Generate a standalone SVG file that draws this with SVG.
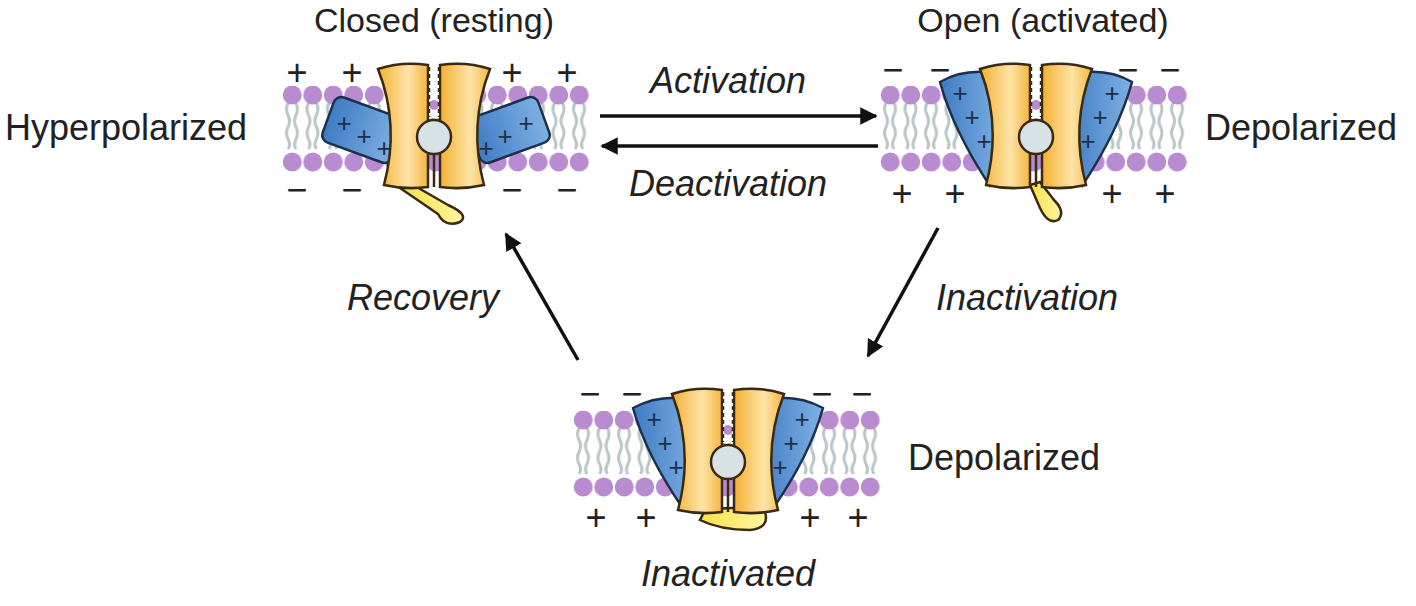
<svg xmlns="http://www.w3.org/2000/svg" xmlns:xlink="http://www.w3.org/1999/xlink" width="1416" height="606" viewBox="0 0 1416 606">
<style>
text{font-family:"Liberation Sans",Arial,sans-serif;fill:#222;font-size:36px}
.tt{font-size:34px}
.it{font-style:italic;font-size:36px}
.ch{font-size:32px;text-anchor:middle;fill:#333}
.orng{fill:url(#og);stroke:#3a2a10;stroke-width:2.5}
.blu{fill:url(#bg);stroke:#1e2f4a;stroke-width:2.5}
.yel{fill:url(#yg);stroke:#3a2a10;stroke-width:2.5}
.pore{fill:#d8e2e6;stroke:#3a2a10;stroke-width:2.5}
.pl{font-size:26px;text-anchor:middle;fill:#1e2f4a}
.con{stroke:#111;stroke-width:3.5;fill:none}
</style>
<defs>
<linearGradient id="og" x1="0" x2="1"><stop offset="0" stop-color="#f4b030"/><stop offset="0.6" stop-color="#fde4a8"/><stop offset="1" stop-color="#f6b640"/></linearGradient>
<linearGradient id="bg" x1="0" x2="1"><stop offset="0" stop-color="#3f7cc4"/><stop offset="1" stop-color="#7fb0e3"/></linearGradient>
<linearGradient id="yg" x1="0" x2="1"><stop offset="0" stop-color="#f7e04a"/><stop offset="1" stop-color="#fff6a0"/></linearGradient>
<pattern id="lip" patternUnits="userSpaceOnUse" width="20.5" height="200">
<path d="M6 17 q-3 6 0 12 t0 12 t0 12 t0 10 M14 17 q3 6 0 12 t0 12 t0 12 t0 10" stroke="#b9c6c8" stroke-width="3" fill="none"/>
<circle cx="10.25" cy="9" r="9.5" fill="#b98cd2"/>
<circle cx="10.25" cy="76" r="9.5" fill="#b98cd2"/>
</pattern>
<marker id="ah" viewBox="0 0 10 10" refX="9" refY="5" markerWidth="5" markerHeight="5" orient="auto"><path d="M0,0 L10,5 L0,10 Z" fill="#111"/></marker>
<g id="chan">
<path class="orng" d="M-56,-26 Q-32,-34 -6,-30 L-6,92 Q-28,95 -50,90 Q-34,30 -56,-26 Z"/>
<path class="orng" d="M56,-26 Q32,-34 6,-30 L6,92 Q28,95 50,90 Q34,30 56,-26 Z"/>
<rect x="-5" y="-29" width="10" height="52" fill="#fff"/>
<circle cx="0" cy="10" r="5" fill="#b98cd2"/>
<path d="M-5,-28 v50 M5,-28 v50" stroke="#3a2a10" stroke-width="2.5" stroke-dasharray="4 3"/>
<circle class="pore" cx="0" cy="42" r="17"/>
<path d="M0,59 v33" stroke="#3a2a10" stroke-width="2.5"/>
</g>
</defs>

<g id="connectors">
<line class="con" x1="600" y1="116" x2="876" y2="116" marker-end="url(#ah)"/>
<line class="con" x1="878" y1="146" x2="602" y2="146" marker-end="url(#ah)"/>
<line class="con" x1="938" y1="228" x2="868" y2="356" marker-end="url(#ah)"/>
<line class="con" x1="578" y1="360" x2="506" y2="234" marker-end="url(#ah)"/>
<text class="it" x="728" y="93" text-anchor="middle">Activation</text>
<text class="it" x="728" y="196" text-anchor="middle">Deactivation</text>
<text class="it" x="423" y="310" text-anchor="middle">Recovery</text>
<text class="it" x="1027" y="310" text-anchor="middle">Inactivation</text>
</g>

<g id="closed">
<text class="tt" x="434" y="32" text-anchor="middle">Closed (resting)</text>
<text x="5" y="140">Hyperpolarized</text>
<g transform="translate(282,86)"><rect width="308" height="86" fill="url(#lip)"/></g>
<path class="yel" d="M408,182 L448,205 Q470,215 460,222 Q445,228 438,214 L400,188 Z"/>
<rect class="blu" x="326" y="106" width="74" height="48" rx="8" transform="rotate(20 363 130)"/>
<rect class="blu" x="472" y="106" width="74" height="48" rx="8" transform="rotate(-20 509 130)"/>
<use xlink:href="#chan" transform="translate(434,95)"/>
<text class="pl" x="344" y="132">+</text><text class="pl" x="364" y="145">+</text><text class="pl" x="384" y="157">+</text>
<text class="pl" x="486" y="157">+</text><text class="pl" x="505" y="145">+</text><text class="pl" x="526" y="132">+</text>
<g class="ch"><text x="297" y="85">+</text><text x="352" y="85">+</text><text x="512" y="85">+</text><text x="567" y="85">+</text>
<text x="297" y="202">−</text><text x="352" y="202">−</text><text x="512" y="202">−</text><text x="567" y="202">−</text></g>
</g>

<g id="open">
<text class="tt" x="1043" y="32" text-anchor="middle">Open (activated)</text>
<text x="1205" y="140">Depolarized</text>
<g transform="translate(880,86)"><rect width="308" height="86" fill="url(#lip)"/></g>
<path class="yel" d="M1030,185 L1040,208 Q1048,225 1058,220 Q1066,212 1054,200 L1040,182 Z"/>
<path class="blu" d="M940,82 Q960,70 987,72 L1004,182 L990,186 Q953,130 940,82 Z"/>
<path class="blu" d="M1132,82 Q1112,70 1085,72 L1068,182 L1082,186 Q1119,130 1132,82 Z"/>
<use xlink:href="#chan" transform="translate(1036,95)"/>
<text class="pl" x="960" y="102">+</text><text class="pl" x="972" y="126">+</text><text class="pl" x="984" y="150">+</text>
<text class="pl" x="1112" y="102">+</text><text class="pl" x="1100" y="126">+</text><text class="pl" x="1088" y="150">+</text>
<g class="ch"><text x="893" y="82">−</text><text x="940" y="82">−</text><text x="1128" y="82">−</text><text x="1170" y="82">−</text>
<text x="902" y="206">+</text><text x="955" y="206">+</text><text x="1112" y="206">+</text><text x="1165" y="206">+</text></g>
</g>

<g id="inactivated">
<text x="908" y="470">Depolarized</text>
<text class="it" x="728" y="586" text-anchor="middle">Inactivated</text>
<g transform="translate(573,411)"><rect width="308" height="86" fill="url(#lip)"/></g>
<path class="yel" d="M705,510 Q740,505 765,512 Q770,528 750,530 Q720,530 700,520 Z"/>
<path class="blu" d="M633,408 Q655,396 681,398 L698,506 L684,510 Q646,455 633,408 Z"/>
<path class="blu" d="M823,408 Q801,396 775,398 L758,506 L772,510 Q810,455 823,408 Z"/>
<use xlink:href="#chan" transform="translate(728,420)"/>
<text class="pl" x="654" y="428">+</text><text class="pl" x="665" y="452">+</text><text class="pl" x="676" y="476">+</text>
<text class="pl" x="802" y="428">+</text><text class="pl" x="791" y="452">+</text><text class="pl" x="780" y="476">+</text>
<g class="ch"><text x="590" y="406">−</text><text x="632" y="406">−</text><text x="822" y="406">−</text><text x="862" y="406">−</text>
<text x="596" y="530">+</text><text x="646" y="530">+</text><text x="810" y="530">+</text><text x="858" y="530">+</text></g>
</g>
</svg>
